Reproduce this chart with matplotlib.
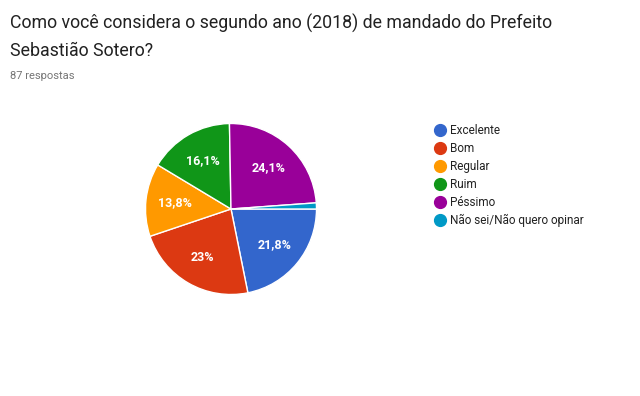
import matplotlib.pyplot as plt
from matplotlib.lines import Line2D

plt.rcParams['font.family'] = ['Roboto', 'DejaVu Sans']

# respostas (87 no total)
categorias = ['Excelente', 'Bom', 'Regular', 'Ruim', 'Péssimo', 'Não sei/Não quero opinar']
respostas = [19, 20, 12, 14, 21, 1]
cores = ['#3366cc', '#dc3912', '#ff9900', '#109618', '#990099', '#0099c6']

titulo = 'Como você considera o segundo ano (2018) de mandado do Prefeito\nSebastião Sotero?'
subtitulo = '87 respostas'


def rotulo(p):
    # sem rótulo para fatias pequenas, vírgula decimal
    if p < 5:
        return ''
    s = f'{p:.1f}'
    if s.endswith('.0'):
        s = s[:-2]
    return s.replace('.', ',') + '%'


W, H = 640, 396
fig = plt.figure(figsize=(W / 100, H / 100), dpi=100)
fig.patch.set_facecolor('white')

fig.text(10 / W, 1 - 14 / H, titulo, fontsize=12.8, color='#212121',
         va='top', ha='left', linespacing=1.65)
fig.text(10 / W, 1 - 76 / H, subtitulo, fontsize=8, color='#757575',
         va='center', ha='left')

# pizza
cx, cy, r = 231, 209, 85.5
ax = fig.add_axes([(cx - r) / W, (H - cy - r) / H, 2 * r / W, 2 * r / H])
ax.pie(respostas, colors=cores, startangle=0, counterclock=False,
       autopct=rotulo, pctdistance=0.66,
       wedgeprops=dict(edgecolor='white', linewidth=1),
       textprops=dict(color='white', fontsize=9, fontweight='bold'))
ax.set_xlim(-1, 1)
ax.set_ylim(-1, 1)
ax.set_aspect('equal')
ax.axis('off')

handles = [Line2D([], [], marker='o', linestyle='none', markersize=8.5,
                  markerfacecolor=c, markeredgecolor=c) for c in cores]
fig.legend(handles, categorias, loc='upper left',
           bbox_to_anchor=(428 / W, 1 - 118 / H), frameon=False,
           fontsize=8.5, labelcolor='#222222', handlelength=1.0,
           handletextpad=0.35, labelspacing=0.42, borderpad=0)

fig.savefig('out.png', dpi=100)
